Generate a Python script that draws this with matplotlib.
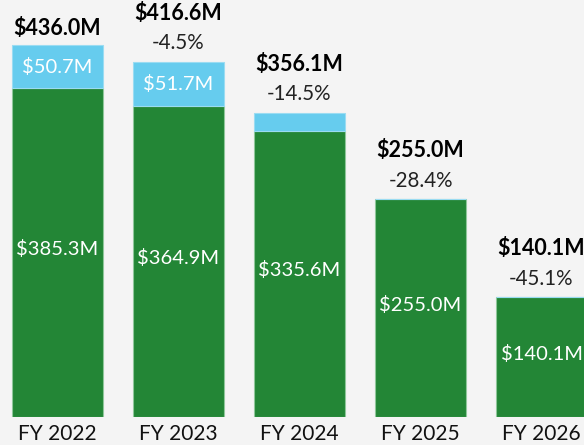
import matplotlib
matplotlib.use("Agg")
import matplotlib.pyplot as plt

years = ["FY 2022", "FY 2023", "FY 2024", "FY 2025", "FY 2026"]
base_vals = [385.3, 364.9, 335.6, 255.0, 140.1]
extra_vals = [50.7, 51.7, 20.5, 0.0, 0.0]
totals = [436.0, 416.6, 356.1, 255.0, 140.1]
changes = [None, "-4.5%", "-14.5%", "-28.4%", "-45.1%"]

GREEN = "#238636"
BLUE = "#66CCEE"
BG = "#F4F4F4"

plt.rcParams["font.family"] = ["Lato", "DejaVu Sans"]

fig = plt.figure(figsize=(5.84, 4.45), dpi=100)
fig.patch.set_facecolor(BG)
ax = fig.add_axes([0, 28 / 445, 1, 417 / 445])
ax.set_facecolor(BG)

x = list(range(len(years)))
width = 0.75
ax.bar(x, base_vals, width=width, color=GREEN, edgecolor="#8fc79a", linewidth=0.8)
ax.bar(x, extra_vals, width=width, bottom=base_vals, color=BLUE, edgecolor="#9adcf2", linewidth=0.8)

for i in x:
    ax.text(i, base_vals[i] / 2 + 4, f"${base_vals[i]:.1f}M", ha="center", va="center", color="white", fontsize=14.5)
    if extra_vals[i] >= 40:
        ax.text(i, base_vals[i] + extra_vals[i] / 2, f"${extra_vals[i]:.1f}M", ha="center", va="center", color="white", fontsize=14.5)
    top = base_vals[i] + extra_vals[i]
    if changes[i] is None:
        ax.annotate(f"${totals[i]:.1f}M", (i, top), xytext=(0, 12), textcoords="offset points",
                    ha="center", va="center", fontsize=15.5, fontweight="bold", color="black")
    else:
        ax.annotate(changes[i], (i, top), xytext=(0, 13.5), textcoords="offset points",
                    ha="center", va="center", fontsize=14.8, color="#222222")
        ax.annotate(f"${totals[i]:.1f}M", (i, top), xytext=(0, 35), textcoords="offset points",
                    ha="center", va="center", fontsize=15.5, fontweight="bold", color="black")

ax.set_xlim(-57.5 / 121, (584 - 57.5) / 121)
ax.set_ylim(0, 417 / 0.853)
ax.set_xticks(x)
ax.set_xticklabels(years, fontsize=15, color="#111111")
ax.tick_params(axis="x", length=0, pad=5)
ax.set_yticks([])
for s in ax.spines.values():
    s.set_visible(False)

fig.savefig("out.png", dpi=100, facecolor=BG)
